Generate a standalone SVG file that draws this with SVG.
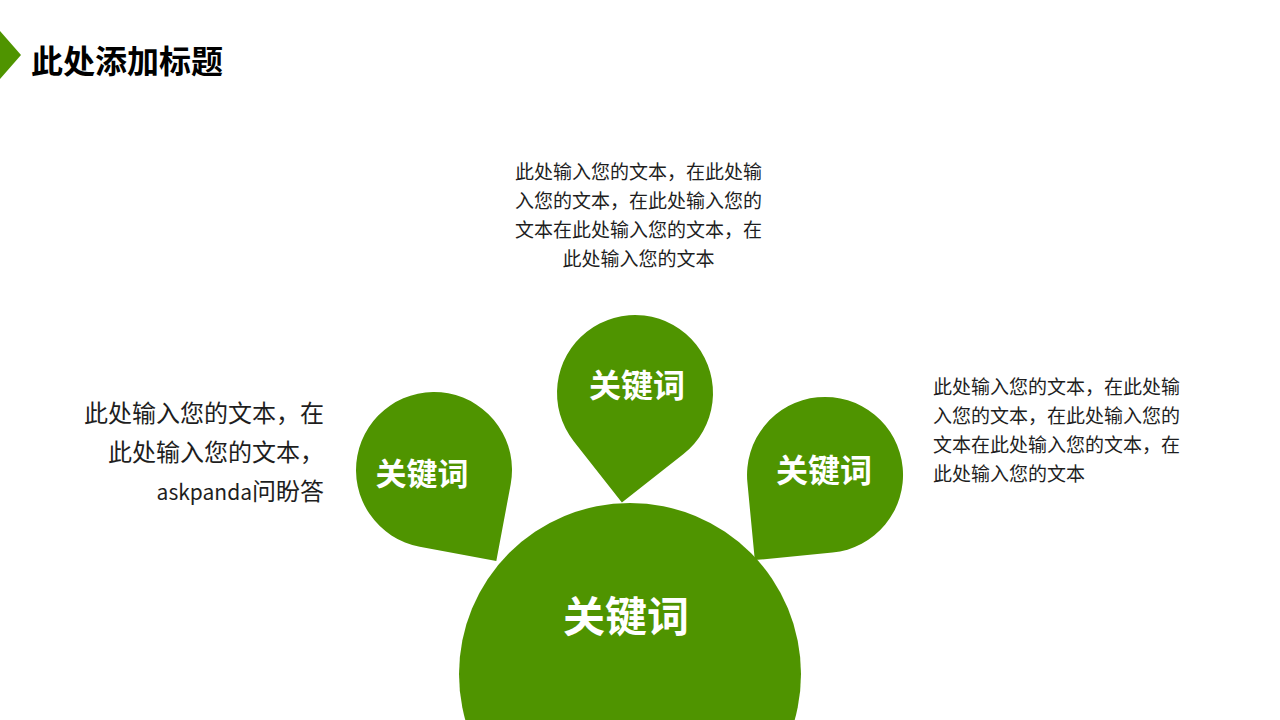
<svg xmlns="http://www.w3.org/2000/svg" width="1280" height="720" viewBox="0 0 1280 720">
  <style>
    .g { fill: #4f9400; }
    .kw { fill: #ffffff; font-family: "Noto Sans CJK SC", "Noto Sans", sans-serif; font-weight: bold; text-anchor: middle; }
    .body { fill: #1e1e1e; font-family: "Noto Sans CJK SC", "Noto Sans", sans-serif; }
    .title { fill: #000000; font-family: "Noto Sans CJK SC", "Noto Sans", sans-serif; font-weight: bold; font-size: 32px; }
  </style>
  <rect width="1280" height="720" fill="#ffffff"/>

  <g id="title-bar">
    <polygon class="g" points="0,31 21,55 0,79"/>
    <text class="title" x="31" y="73">此处添加标题</text>
  </g>

  <g id="node-left">
    <path class="g" d="M510.7,484.3 L496.3,561 L419.7,546.7 A78 78 0 1 1 510.7,484.3 Z"/>
    <text class="kw" x="422" y="485" font-size="31">关键词</text>
  </g>

  <g id="node-top">
    <path class="g" d="M683.2,454.3 L621.9,502.5 L573.7,441.2 A78 78 0 1 1 683.2,454.3 Z"/>
    <text class="kw" x="637" y="397" font-size="32">关键词</text>
  </g>

  <g id="node-right">
    <path class="g" d="M832.5,552.6 L754.8,560.1 L747.4,482.5 A78 78 0 1 1 832.5,552.6 Z"/>
    <text class="kw" x="824" y="482" font-size="32">关键词</text>
  </g>

  <g id="node-center">
    <circle class="g" cx="630" cy="674" r="171"/>
    <text class="kw" x="626" y="632" font-size="42">关键词</text>
  </g>

  <g id="text-top" class="body" font-size="19" text-anchor="middle">
    <text x="638.5" y="179">此处输入您的文本，在此处输</text>
    <text x="638.5" y="208">入您的文本，在此处输入您的</text>
    <text x="638.5" y="237">文本在此处输入您的文本，在</text>
    <text x="638.5" y="266">此处输入您的文本</text>
  </g>

  <g id="text-right" class="body" font-size="19">
    <text x="933" y="394">此处输入您的文本，在此处输</text>
    <text x="933" y="423">入您的文本，在此处输入您的</text>
    <text x="933" y="452">文本在此处输入您的文本，在</text>
    <text x="933" y="481">此处输入您的文本</text>
  </g>

  <g id="text-left" class="body" font-size="24" text-anchor="end">
    <text x="324" y="422">此处输入您的文本，在</text>
    <text x="324" y="461">此处输入您的文本，</text>
    <text x="324" y="500"><tspan font-size="21">askpanda</tspan>问盼答</text>
  </g>
</svg>
